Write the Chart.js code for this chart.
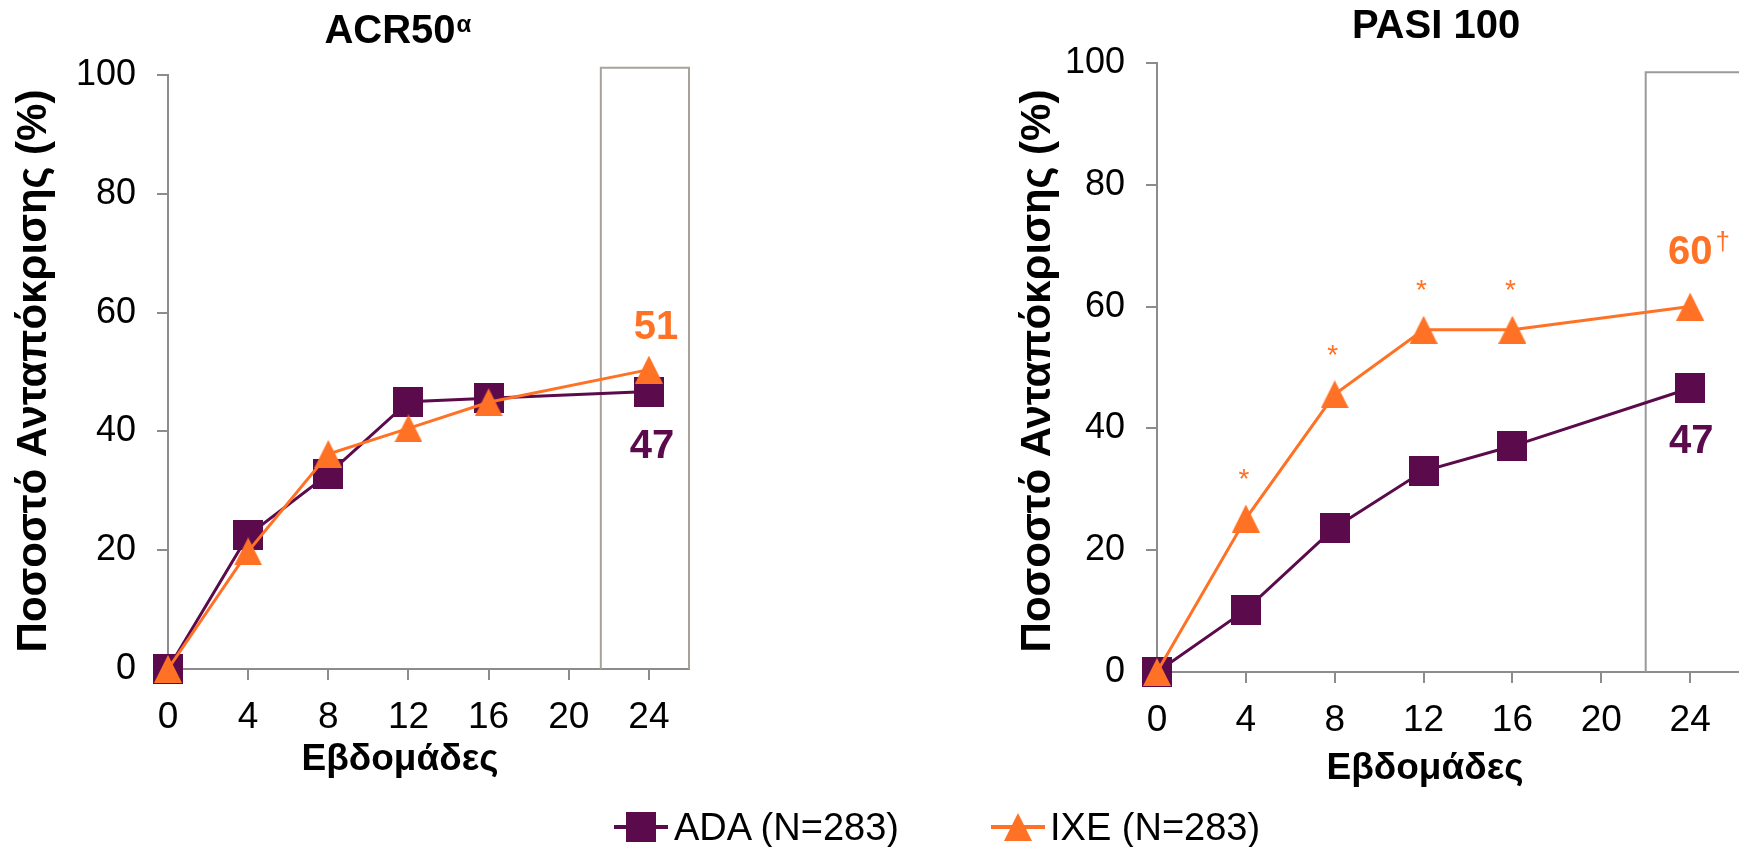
<!DOCTYPE html>
<html>
<head>
<meta charset="utf-8">
<script src="https://cdn.jsdelivr.net/npm/chart.js@4.4.0/dist/chart.umd.min.js"></script>
<style>
  html, body { margin: 0; padding: 0; background: #fff; width: 1739px; height: 847px; overflow: hidden; }
  body { position: relative; font-family: 'Liberation Sans', Arial, sans-serif; }
  #acrChart { position: absolute; left: 0; top: 0; }
  #pasiChart { position: absolute; left: 880px; top: 0; }
  .legItem { position: absolute; top: 805px; height: 44px; line-height: 44px; font-size: 38px; color: #000; white-space: nowrap; }
  .legIcon { position: absolute; top: 812px; }
</style>
</head>
<body>
<canvas id="acrChart" width="760" height="847"></canvas>
<canvas id="pasiChart" width="859" height="847"></canvas>
<canvas class="legIcon" id="legAda" width="54" height="30" style="left:614px"></canvas>
<div class="legItem" style="left:674px">ADA (N=283)</div>
<canvas class="legIcon" id="legIxe" width="54" height="30" style="left:991px"></canvas>
<div class="legItem" style="left:1050px">IXE (N=283)</div>
<script>
// data
const weeks = [0, 4, 8, 12, 16, 24];
const acrAda = [0, 22.5, 32.8, 45.0, 45.6, 46.7];
const acrIxe = [0, 19.8, 36.2, 40.5, 44.9, 50.4];
const pasiAda = [0, 10.2, 23.7, 33.0, 37.1, 46.6];
const pasiIxe = [0, 25.2, 45.6, 56.2, 56.2, 60.0];
const pasiStars = ['', '*', '*', '*', '*', ''];
const xTicks = [0, 4, 8, 12, 16, 20, 24];
const yTicks = [0, 20, 40, 60, 80, 100];
const seriesNames = ['ADA (N=283)', 'IXE (N=283)'];

const ADA_COLOR = '#5b0a4b';
const IXE_COLOR = '#ff7124';
const AXIS_COLOR = '#8c8c8c';
const FONT = "'Liberation Sans', Arial, sans-serif";

// markers centred on the point like the original (excel style)
function squareMarker(size, color) {
    const c = document.createElement('canvas');
    c.width = size; c.height = size;
    const g = c.getContext('2d');
    g.fillStyle = color;
    g.fillRect(0, 0, size, size);
    return c;
}
function triangleMarker(w, h, color) {
    const c = document.createElement('canvas');
    c.width = w; c.height = h;
    const g = c.getContext('2d');
    g.fillStyle = color;
    g.beginPath();
    g.moveTo(w / 2, 0);
    g.lineTo(w, h);
    g.lineTo(0, h);
    g.closePath();
    g.fill();
    return c;
}
const sq = squareMarker(30, ADA_COLOR);
const tri = triangleMarker(28, 28, IXE_COLOR);

const toPoints = vals => weeks.map((w, i) => ({ x: w, y: vals[i] }));

const overlay = {
    id: 'overlay',
    beforeDatasetsDraw(chart, args, o) {
        const ctx = chart.ctx, x = chart.scales.x, y = chart.scales.y;
        ctx.save();
        ctx.strokeStyle = o.boxColor;
        ctx.lineWidth = 2;
        const l = x.getPixelForValue(o.box[0]), r = x.getPixelForValue(o.box[1]);
        const t = y.getPixelForValue(o.box[2]), b = y.getPixelForValue(0);
        ctx.beginPath();
        ctx.moveTo(l, b); ctx.lineTo(l, t); ctx.lineTo(r, t); ctx.lineTo(r, b);
        ctx.stroke();
        ctx.restore();
    },
    afterDraw(chart, args, o) {
        const ctx = chart.ctx;
        ctx.save();
        ctx.fillStyle = '#000';
        // title
        ctx.font = 'bold 40px ' + FONT;
        ctx.textBaseline = 'alphabetic';
        ctx.textAlign = 'center';
        ctx.fillText(o.title, o.titleX, o.titleY);
        if (o.sup) {
            const w = ctx.measureText(o.title).width;
            ctx.font = 'bold 24px ' + FONT;
            ctx.textAlign = 'left';
            ctx.fillText(o.sup, o.titleX + w / 2 + 1, o.titleY - 11);
        }
        // axis titles
        ctx.font = 'bold 37px ' + FONT;
        ctx.textAlign = 'center';
        ctx.fillText('Εβδομάδες', o.xTitleX, o.xTitleY);
        ctx.save();
        ctx.translate(o.yTitleX, 371);
        ctx.rotate(-Math.PI / 2);
        ctx.font = 'bold 42px ' + FONT;
        ctx.fillText('Ποσοστό Ανταπόκρισης (%)', 0, 0);
        ctx.restore();
        // end values
        const last = weeks.length - 1;
        const pAda = chart.getDatasetMeta(0).data[last];
        const pIxe = chart.getDatasetMeta(1).data[last];
        ctx.font = 'bold 40px ' + FONT;
        ctx.textBaseline = 'middle';
        ctx.fillStyle = IXE_COLOR;
        ctx.fillText(o.ixeLabel, pIxe.x + o.ixeDx, pIxe.y + o.ixeDy);
        if (o.ixeSup) {
            const w = ctx.measureText(o.ixeLabel).width;
            ctx.font = '26px ' + FONT;
            ctx.textAlign = 'left';
            ctx.fillText(o.ixeSup, pIxe.x + o.ixeDx + w / 2 + 3, pIxe.y + o.ixeDy - 10);
            ctx.textAlign = 'center';
        }
        ctx.font = 'bold 40px ' + FONT;
        ctx.fillStyle = ADA_COLOR;
        ctx.fillText(o.adaLabel, pAda.x + o.adaDx, pAda.y + o.adaDy);
        // significance marks
        if (o.stars) {
            ctx.font = '28px ' + FONT;
            ctx.fillStyle = IXE_COLOR;
            chart.getDatasetMeta(1).data.forEach((pt, i) => {
                if (o.stars[i]) ctx.fillText(o.stars[i], pt.x - 2, pt.y - 38);
            });
        }
        ctx.restore();
    }
};

function makeChart(id, ada, ixe, cfg) {
    return new Chart(document.getElementById(id), {
        type: 'line',
        data: {
            datasets: [
                { label: seriesNames[0], data: toPoints(ada), borderColor: ADA_COLOR, backgroundColor: ADA_COLOR,
                  borderWidth: 3, pointStyle: sq, pointRadius: 15, tension: 0, clip: false, order: 1 },
                { label: seriesNames[1], data: toPoints(ixe), borderColor: IXE_COLOR, backgroundColor: IXE_COLOR,
                  borderWidth: 3, pointStyle: tri, pointRadius: 15, tension: 0, clip: false, order: 0 }
            ]
        },
        options: {
            responsive: false,
            animation: false,
            events: [],
            layout: { autoPadding: false, padding: { top: cfg.top, right: cfg.right, left: 0, bottom: 0 } },
            plugins: { legend: { display: false }, tooltip: { enabled: false }, overlay: cfg.overlay },
            scales: {
                x: {
                    type: 'linear', min: 0, max: cfg.xMax,
                    afterBuildTicks: s => { s.ticks = xTicks.map(v => ({ value: v })); },
                    afterFit: s => { s.height = cfg.xHeight; },
                    grid: { drawOnChartArea: false, drawTicks: true, tickLength: 11, tickColor: AXIS_COLOR, lineWidth: 2 },
                    border: { display: true, color: AXIS_COLOR, width: 2 },
                    ticks: { color: '#000', font: { family: FONT, size: 37 }, padding: 16, maxRotation: 0 }
                },
                y: {
                    min: 0, max: 100,
                    afterBuildTicks: s => { s.ticks = yTicks.map(v => ({ value: v })); },
                    afterFit: s => { s.width = cfg.yWidth; },
                    grid: { drawOnChartArea: false, drawTicks: true, tickLength: 11, tickColor: AXIS_COLOR, lineWidth: 2 },
                    border: { display: true, color: AXIS_COLOR, width: 2 },
                    ticks: { color: '#000', font: { family: FONT, size: 36 }, padding: 21 }
                }
            }
        },
        plugins: [overlay]
    });
}

makeChart('acrChart', acrAda, acrIxe, {
    top: 75, right: 71, xMax: 26, xHeight: 178, yWidth: 168,
    overlay: {
        title: 'ACR50', sup: 'α', titleX: 390, titleY: 43,
        xTitleX: 400, xTitleY: 770, yTitleX: 46,
        box: [21.6, 26, 101.2], boxColor: '#a8a29c',
        ixeLabel: '51', ixeDx: 7, ixeDy: -42,
        adaLabel: '47', adaDx: 3, adaDy: 55
    }
});

makeChart('pasiChart', pasiAda, pasiIxe, {
    top: 63, right: 0, xMax: 26.2, xHeight: 175, yWidth: 277,
    overlay: {
        title: 'PASI 100', sup: '', titleX: 556, titleY: 38,
        xTitleX: 545, xTitleY: 779, yTitleX: 170,
        box: [22.0, 28, 98.5], boxColor: '#9a9a9a',
        ixeLabel: '60', ixeDx: 0, ixeDy: -54, ixeSup: '†',
        adaLabel: '47', adaDx: 1, adaDy: 54,
        stars: pasiStars
    }
});

// legend swatches: line with marker
function legendIcon(id, marker) {
    const g = document.getElementById(id).getContext('2d');
    g.fillStyle = marker === sq ? ADA_COLOR : IXE_COLOR;
    g.fillRect(0, 13, 54, 4);
    g.drawImage(marker, 27 - marker.width / 2, 15 - marker.height / 2);
}
legendIcon('legAda', sq);
legendIcon('legIxe', tri);
</script>
</body>
</html>
